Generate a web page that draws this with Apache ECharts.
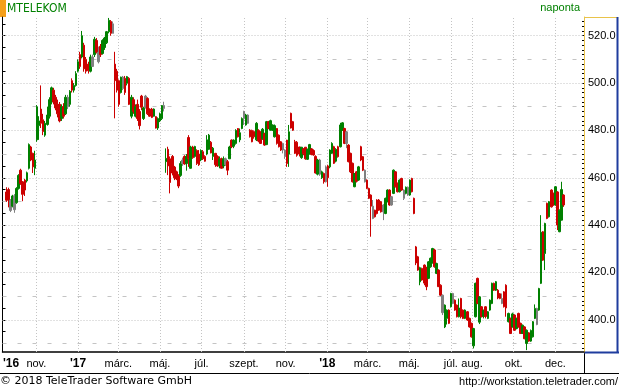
<!DOCTYPE html>
<html><head><meta charset="utf-8">
<script src="https://cdn.jsdelivr.net/npm/echarts@6/dist/echarts.min.js"></script>
<style>html,body{margin:0;padding:0;background:#fff}#c{width:619px;height:390px}</style>
</head><body><div id="c"></div>
<script>
const instrument = 'MTELEKOM';
const periodText = 'naponta';
const copyrightText = '© 2018 TeleTrader Software GmbH';
const urlText = 'http://workstation.teletrader.com/';
const firstDate = '2016-09-18';
const stepDays = 3;

const opens = [
454.0,455.0,446.2,448.0,446.5,449.5,455.5,463.2,458.3,459.0,
458.7,464.0,473.0,470.3,464.0,476.0,482.0,489.0,484.5,478.0,
482.5,486.0,492.0,497.0,494.0,491.0,491.0,485.0,490.0,487.0,
490.0,491.0,501.0,497.0,499.0,505.0,512.0,511.0,516.0,510.0,
508.0,505.0,507.0,512.0,518.0,509.0,515.5,512.5,515.0,517.0,
521.7,526.0,525.0,508.0,505.0,501.0,496.0,497.7,502.0,499.9,
502.0,486.0,493.0,486.0,491.0,488.0,494.5,485.0,494.5,493.5,
489.0,489.0,486.0,485.8,481.0,484.0,485.0,489.3,466.8,472.0,
468.0,469.0,464.5,462.5,461.0,461.0,467.5,469.0,466.0,477.0,
464.0,473.0,469.0,471.5,470.0,467.5,471.0,469.0,470.0,472.0,
475.0,469.0,470.3,469.0,465.0,468.0,465.0,465.5,466.8,468.0,
475.9,473.3,474.5,480.8,476.0,480.8,488.0,482.3,483.0,480.1,
480.0,479.5,476.0,480.0,479.4,476.5,478.7,474.0,483.7,480.1,
480.1,477.3,480.8,478.0,475.2,474.5,469.0,475.9,470.0,487.2,
483.7,475.2,475.0,473.0,468.5,472.2,472.9,467.8,470.0,472.2,
471.5,469.0,461.5,461.5,460.0,461.8,464.6,465.0,464.6,470.3,
473.1,467.0,473.1,473.1,480.1,480.8,479.4,473.8,470.3,466.1,
456.2,462.5,459.0,473.1,468.9,458.3,459.0,455.5,452.7,442.8,
446.3,450.6,450.6,449.9,448.5,444.9,449.9,454.8,452.0,453.4,
462.5,457.6,454.1,459.7,451.3,453.4,452.7,452.7,459.7,451.3,
430.8,426.6,416.0,421.7,423.1,421.0,417.5,422.4,424.0,429.5,
419.6,421.0,414.6,403.0,397.0,400.6,404.1,405.5,406.9,408.3,
406.2,401.3,409.0,404.1,400.6,403.4,400.6,398.5,389.0,401.3,
417.5,399.0,405.5,401.5,405.5,400.6,404.1,406.9,415.4,412.5,
412.5,411.0,406.9,411.8,414.6,399.2,400.6,397.0,402.0,396.3,
402.7,398.5,394.2,397.0,390.0,394.5,391.0,392.8,400.6,398.0,
404.1,415.4,437.2,428.0,449.2,443.5,454.8,453.4,448.5,454.0,
437.2,442.1,452.7];

const closes = [
450.5,450.6,450.6,452.3,452.3,455.5,461.0,457.6,453.0,454.8,
462.1,474.0,467.5,464.6,467.5,490.0,484.0,483.0,479.5,483.0,
486.5,493.0,498.0,492.0,489.5,487.0,484.0,490.0,486.0,494.0,
494.0,496.5,497.0,499.0,504.0,509.0,507.0,520.0,506.0,505.0,
505.2,511.0,511.0,518.5,513.0,513.0,512.0,518.0,519.0,521.7,
526.5,521.0,521.0,501.0,497.0,491.0,502.5,502.5,496.0,502.7,
491.0,494.0,488.0,490.0,485.0,482.0,489.8,489.5,489.5,487.0,
486.0,485.5,489.0,481.0,485.0,487.0,490.5,490.5,468.2,465.0,
458.0,462.0,460.0,459.5,456.5,466.0,466.0,465.8,469.0,468.0,
473.0,468.5,473.2,466.0,465.5,471.5,468.0,467.0,476.0,478.0,
470.5,472.5,465.5,465.0,468.0,464.0,468.0,468.0,463.2,473.0,
473.1,475.9,480.0,477.3,479.0,485.0,485.0,486.5,486.5,477.3,
475.2,477.3,483.0,475.5,474.5,480.5,473.8,483.7,480.8,484.1,
482.3,482.0,474.5,473.1,471.7,471.7,471.7,466.0,479.4,481.0,
480.1,470.3,469.5,470.0,472.9,470.1,468.0,472.0,474.0,469.8,
469.6,462.0,467.5,467.5,462.5,458.3,458.3,460.0,471.7,474.5,
466.1,472.0,468.9,482.3,483.2,474.5,474.5,466.8,462.5,458.3,
461.8,458.5,464.6,467.5,463.2,463.2,455.5,451.3,448.0,448.0,
443.5,444.9,446.3,445.6,445.6,451.3,454.8,448.5,448.5,463.2,
456.2,454.1,459.0,454.8,454.8,456.0,456.0,459.0,454.1,444.9,
424.0,421.0,422.0,416.8,415.5,414.0,424.5,426.0,430.1,422.4,
423.8,414.0,410.4,410.4,406.2,404.1,398.5,411.1,411.1,404.1,
401.3,405.0,401.3,400.6,404.1,399.9,397.0,392.8,396.3,415.4,
406.9,409.7,401.3,404.0,401.4,403.4,408.3,415.4,412.5,416.1,
409.2,409.0,409.0,405.5,405.0,402.7,394.2,402.5,395.6,400.6,
397.0,394.2,397.7,392.0,395.6,391.0,395.5,399.2,404.8,404.8,
413.2,437.0,425.2,440.7,442.8,449.9,447.7,448.5,456.2,440.0,
446.3,455.0,448.5];

const lows = [
449.8,447.5,445.5,447.5,445.2,449.0,455.0,457.0,450.1,452.3,
458.0,463.5,467.0,462.0,461.1,475.2,476.0,481.0,478.0,477.3,
482.0,485.0,491.0,491.0,488.5,485.5,483.4,484.0,485.0,486.5,
489.0,490.0,496.0,496.0,498.5,504.5,506.0,510.4,504.8,504.0,
504.0,504.5,507.0,511.0,512.5,508.3,511.0,512.0,514.0,516.5,
521.0,520.0,521.0,485.1,496.0,490.0,495.6,497.0,495.0,499.0,
490.7,485.1,487.0,485.5,484.0,480.4,488.5,484.4,489.3,486.5,
485.8,485.2,485.8,480.8,480.2,483.5,484.4,488.0,462.1,461.1,
453.4,461.0,459.0,459.0,455.6,460.4,465.0,465.5,463.0,464.6,
463.9,468.0,468.5,465.4,465.0,467.0,467.5,466.8,469.5,471.7,
470.3,467.5,464.6,464.6,464.0,463.9,464.0,465.0,461.1,468.0,
472.5,472.5,474.0,477.0,475.0,480.5,482.3,482.0,482.8,477.0,
475.0,476.5,475.5,475.0,474.3,476.0,473.5,473.8,480.5,480.0,
479.8,477.0,474.0,472.8,471.3,470.3,468.0,464.6,464.6,480.8,
479.8,470.0,468.9,469.0,468.0,469.5,467.6,467.5,469.8,469.5,
469.3,461.8,461.0,460.8,459.5,457.5,458.0,456.2,464.0,470.0,
465.8,466.5,468.5,472.8,479.8,474.2,472.5,466.5,462.0,458.0,
456.0,458.0,458.7,467.0,462.8,458.0,455.2,451.0,435.1,442.5,
443.2,444.5,446.0,445.3,442.1,444.6,449.6,448.2,448.2,453.1,
455.9,453.8,453.8,454.5,450.6,453.0,452.4,452.4,453.8,444.6,
423.1,420.7,414.6,416.5,414.6,412.5,417.2,422.0,423.8,422.0,
419.3,413.9,410.0,402.0,396.5,398.0,398.2,405.2,406.6,403.8,
401.0,401.0,400.6,400.3,400.3,399.6,396.7,392.5,387.9,401.0,
406.6,398.2,401.0,400.6,400.6,400.3,403.8,406.6,412.2,412.2,
408.7,408.7,406.6,405.2,401.3,398.9,394.0,396.7,395.3,396.0,
396.7,394.0,394.0,391.8,387.2,390.7,390.7,392.5,400.3,397.7,
403.8,415.1,424.9,421.0,442.5,443.2,447.4,448.2,448.2,437.9,
437.0,442.0,447.7];

const highs = [
456.0,455.8,451.0,452.8,453.1,456.0,461.5,463.8,458.6,459.5,
462.6,474.5,473.5,470.6,471.4,490.7,486.0,499.0,487.0,484.0,
490.0,494.0,498.5,498.0,495.0,493.0,492.0,491.0,491.5,495.0,
495.0,497.0,502.0,500.0,505.0,510.0,513.2,522.0,517.0,511.0,
509.0,512.0,512.0,519.5,519.0,515.4,516.5,518.5,519.5,522.0,
527.5,526.6,526.0,513.2,506.0,501.5,502.7,503.0,503.0,503.0,
502.5,495.0,494.0,491.0,493.0,489.0,495.0,490.0,495.0,494.0,
489.3,489.5,489.3,486.0,485.5,487.5,490.7,492.1,472.4,473.1,
469.0,469.6,465.0,463.0,461.5,467.0,468.5,469.5,470.0,478.0,
473.5,473.5,473.5,472.0,471.7,472.0,471.7,469.5,478.0,478.5,
475.5,473.0,470.5,469.5,469.0,468.5,469.0,468.5,467.5,473.5,
476.2,476.2,480.5,481.0,480.8,485.5,488.3,487.0,486.8,480.5,
480.3,480.0,483.5,480.5,479.6,481.0,479.0,484.0,484.0,484.5,
482.5,482.5,481.0,478.3,475.5,474.8,472.0,476.0,482.3,487.5,
484.0,476.0,475.5,473.1,473.0,472.5,473.0,472.3,474.3,472.5,
472.0,469.5,468.0,468.0,463.0,462.2,465.2,465.5,472.0,475.0,
473.5,472.5,473.5,483.2,483.5,481.1,479.8,474.2,470.6,466.4,
462.0,462.8,465.0,473.5,469.2,463.5,459.3,455.8,453.0,450.6,
446.5,450.9,451.0,450.2,448.8,451.6,455.1,455.1,452.3,463.5,
462.8,458.0,459.3,460.0,455.1,456.3,456.3,459.3,460.0,451.6,
431.2,427.0,422.4,422.0,423.4,422.4,424.8,426.3,430.4,430.0,
424.1,421.3,415.0,410.7,406.5,404.4,404.4,411.4,411.4,408.6,
406.5,409.0,409.3,404.4,404.4,403.7,400.9,398.8,396.6,415.7,
417.8,410.0,405.8,404.3,405.8,403.7,408.6,415.7,415.7,416.4,
413.0,411.3,411.1,412.1,415.0,403.0,400.9,403.0,402.3,400.9,
403.0,398.8,398.0,397.3,395.9,394.8,395.9,399.5,406.5,405.1,
413.5,444.2,437.5,441.0,449.5,450.2,455.1,453.7,456.5,454.3,
446.6,458.3,453.0];

const lastPrice = 448.5;

const monthTickDates = ['2016-11-01','2017-01-01','2017-03-01','2017-05-01','2017-07-01','2017-09-01','2017-11-01',
  '2018-01-01','2018-03-01','2018-05-01','2018-07-01','2018-08-01','2018-10-01','2018-12-01'];
const monthTickNames = ['nov.',"'17",'márc.','máj.','júl.','szept.','nov.',"'18",'márc.','máj.','júl.','aug.','okt.','dec.'];
const firstYearLabelDate = '2016-09-25';
const firstYearLabel = "'16";

const priceLabels = [400,420,440,460,480,500,520];
const minorPriceLines = [390,410,430,450,470,490,510];
const leftTickValues = [];
for (let v = 390; v <= 525; v += 5) leftTickValues.push(v);
const rightTickValues = [];
for (let v = 388; v <= 526; v += 2) rightTickValues.push(v);

const DAY = 86400000;
const t0 = Date.parse(firstDate);
const janRef = Date.parse('2017-01-01');
const xMin = janRef - 110.56 * DAY;
const xMax = janRef + 740.9 * DAY;
const yMin = 386.4, yMax = 527.9;

const GREEN = '#008000', RED = '#cc0000', GRAY = '#808080';
const candles = opens.map((o, i) => {
  const c = closes[i];
  const flat = i > 0 && c === closes[i - 1];
  const col = flat ? GRAY : (c >= o ? GREEN : RED);
  return {
    value: [t0 + i * stepDays * DAY, o, c, lows[i], highs[i]],
    itemStyle: { color: col, color0: col, borderColor: col, borderColor0: col, borderColorDoji: col }
  };
});

const labelMap = {};
monthTickDates.forEach((d, i) => { labelMap[Date.parse(d)] = monthTickNames[i]; });
labelMap[Date.parse(firstYearLabelDate)] = firstYearLabel;
const xLabelValues = [Date.parse(firstYearLabelDate)].concat(monthTickDates.map(d => Date.parse(d)));

const gridStyleMajor = { color: '#c4c4c4', width: 1, type: [1, 2] };
const gridStyleMinor = { color: '#c4c4c4', width: 1, type: [4, 11] };
const markData = []
  .concat(priceLabels.map(v => ({ yAxis: v, lineStyle: gridStyleMajor })))
  .concat(minorPriceLines.map(v => ({ yAxis: v, lineStyle: gridStyleMinor })))
  .concat(monthTickDates.map(d => ({ xAxis: Date.parse(d), lineStyle: gridStyleMajor })));
markData.push({
  yAxis: lastPrice,
  lineStyle: { opacity: 0, width: 0 },
  label: { show: true, position: 'end', distance: 1, formatter: lastPrice.toFixed(1),
    backgroundColor: '#000', color: '#fff', fontSize: 11, fontFamily: 'Liberation Sans, Arial, sans-serif',
    padding: [2, 2, 1, 2] }
});

const AX_FONT = 'Liberation Sans, Arial, sans-serif';
const chart = echarts.init(document.getElementById('c'), null, { renderer: 'canvas' });
chart.setOption({
  animation: false,
  backgroundColor: '#fff',
  title: [
    { text: instrument, left: 7, top: 3, padding: 0,
      textStyle: { color: GREEN, fontSize: 12, fontWeight: 'normal', fontFamily: "'DejaVu Sans Condensed', 'Liberation Sans Narrow', sans-serif" } },
    { text: periodText, right: 39, top: 2, padding: 0,
      textStyle: { color: GREEN, fontSize: 11, fontWeight: 'normal', fontFamily: AX_FONT } },
    { text: copyrightText, left: 0, top: 376, padding: 0,
      textStyle: { color: '#000', fontSize: 11, fontWeight: 'normal', fontFamily: 'DejaVu Sans, sans-serif' } },
    { text: urlText, right: 1, top: 376, padding: 0,
      textStyle: { color: '#000', fontSize: 11, fontWeight: 'normal', fontFamily: AX_FONT } }
  ],
  grid: { left: 1, right: 35, top: 17, bottom: 38, containLabel: false },
  xAxis: {
    type: 'value', min: xMin, max: xMax, scale: true,
    axisLine: { show: true, onZero: false, lineStyle: { color: '#000', width: 1.5 } },
    axisTick: { show: false },
    splitLine: { show: false },
    axisLabel: {
      customValues: xLabelValues, margin: 6, color: '#000', fontSize: 11, fontFamily: AX_FONT,
      formatter: v => { const s = labelMap[v] || ''; return s.charAt(0) === "'" ? '{b|' + s + '}' : s; },
      rich: { b: { fontWeight: 'bold', fontSize: 12, color: '#000', fontFamily: AX_FONT } }
    }
  },
  yAxis: [
    { type: 'value', position: 'right', min: yMin, max: yMax, scale: true,
      axisLine: { show: true, onZero: false, lineStyle: { color: '#e9c34a', width: 1 } },
      axisTick: { show: true, inside: true, length: 2, customValues: rightTickValues, lineStyle: { color: '#000' } },
      axisLabel: { customValues: priceLabels, margin: 4, color: '#000', fontSize: 11, fontFamily: AX_FONT,
        formatter: v => v.toFixed(1) },
      splitLine: { show: false } },
    { type: 'value', position: 'left', min: yMin, max: yMax, scale: true,
      axisLine: { show: true, onZero: false, lineStyle: { color: '#000', width: 1 } },
      axisTick: { show: true, inside: true, length: 3, customValues: leftTickValues, lineStyle: { color: '#000' } },
      axisLabel: { show: false },
      splitLine: { show: false } }
  ],
  series: [{
    type: 'candlestick',
    dimensions: ['date', 'open', 'close', 'lowest', 'highest'],
    encode: { x: 'date', y: ['open', 'close', 'lowest', 'highest'] },
    data: candles,
    barWidth: 2,
    itemStyle: { color: GREEN, color0: RED, borderColor: GREEN, borderColor0: RED, borderWidth: 1 },
    markLine: { silent: true, symbol: ['none', 'none'], z: 1, animation: false,
      label: { show: false }, data: markData }
  }],
  graphic: [
    { type: 'rect', shape: { x: 0, y: 0, width: 6, height: 17 }, style: { fill: '#f5a01a' } },
    { type: 'line', shape: { x1: 0, y1: 373.5, x2: 619, y2: 373.5 }, style: { stroke: '#000', lineWidth: 1 } },
    { type: 'line', shape: { x1: 584.5, y1: 352, x2: 584.5, y2: 373 }, style: { stroke: '#000', lineWidth: 1 } },
    { type: 'line', shape: { x1: 584, y1: 17.5, x2: 618, y2: 17.5 }, style: { stroke: '#e9c34a', lineWidth: 1 } },
    { type: 'line', shape: { x1: 617.5, y1: 17, x2: 617.5, y2: 353 }, style: { stroke: '#1f3c9e', lineWidth: 2 } },
    { type: 'line', shape: { x1: 584, y1: 352.5, x2: 619, y2: 352.5 }, style: { stroke: '#1f3c9e', lineWidth: 2 } }
  ]
});
</script>
</body></html>
